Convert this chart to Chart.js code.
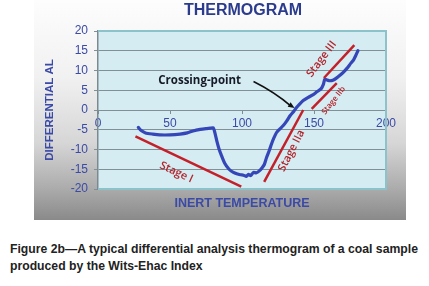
<!DOCTYPE html>
<html>
<head>
<meta charset="utf-8">
<script src="https://cdn.jsdelivr.net/npm/chart.js@4"></script>
<style>
  html, body { margin: 0; padding: 0; background: #fff; }
  body { width: 429px; height: 286px; position: relative; overflow: hidden; }
  #chart { position: absolute; left: 0; top: 0; }
  .caption {
    position: absolute; left: 10px;
    font-family: "Liberation Sans Narrow", "Liberation Sans", sans-serif;
    font-weight: bold; font-size: 13px; color: #222; white-space: nowrap;
  }
</style>
</head>
<body>
<canvas id="chart" width="429" height="220"></canvas>
<div class="caption" id="cap1" style="top:241px">Figure 2b—A typical differential analysis thermogram of a coal sample</div>
<div class="caption" id="cap2" style="top:258px">produced by the Wits-Ehac Index</div>
<script>
// thermogram curve (inert temperature vs differential)
var temps = [28, 30, 33, 38, 43, 50, 57, 62, 66, 71, 75, 78, 80, 81, 82.5, 84, 85.5, 88, 91, 94, 97, 99,
  101, 103, 104.5, 106, 108, 110, 112, 114, 115.5, 117, 119, 120.5, 122, 124, 126, 128.5, 131, 133.5,
  136, 138, 140, 142.5, 146, 149.5, 152, 155, 156.5, 157.5, 159, 161, 163.5, 166, 168, 170.5, 173,
  175.5, 177.5, 179, 180.5];
var diffs = [-4.4, -5.2, -5.8, -6.1, -6.3, -6.3, -6.1, -5.8, -5.3, -4.9, -4.7, -4.6, -4.5, -5.5, -7.8,
  -9.8, -11.3, -13.5, -15.0, -15.8, -16.2, -16.4, -16.5, -16.8, -16.3, -16.6, -15.8, -15.9, -15.4,
  -14.6, -13.8, -12.1, -10.2, -8.6, -7.2, -5.7, -4.9, -4.0, -2.8, -1.4, -0.3, 0.7, 1.5, 2.4, 3.2, 3.9,
  4.6, 5.4, 6.5, 7.8, 7.6, 7.4, 7.6, 8.2, 8.8, 9.6, 10.6, 11.8, 12.7, 13.8, 15.0];

// stage trend lines (start / end)
var stageIx = [26, 99.5],    stageIy = [-6.7, -19.4];
var stageIIax = [115.4, 142.5], stageIIay = [-18.2, 0];
var stageIIbx = [148.4, 165.8], stageIIby = [0.3, 6.8];
var stageIIIx = [156.9, 178], stageIIIy = [8.1, 16.4];

var xTicks = [0, 50, 100, 150, 200];
var yTicks = [-20, -15, -10, -5, 0, 5, 10, 15, 20];

function pts(xs, ys) {
  var out = [];
  for (var i = 0; i < xs.length; i++) out.push({x: xs[i], y: ys[i]});
  return out;
}

var blue = '#3446b8';
var red = '#c4202a';
var axisBlue = '#3b4aa6';

// panel background, plot fill and frame
var backPlugin = {
  id: 'back',
  beforeDraw: function(chart) {
    var ctx = chart.ctx, a = chart.chartArea;
    ctx.save();
    var g = ctx.createLinearGradient(0, 0, 0, 220);
    g.addColorStop(0, '#fdfdfd');
    g.addColorStop(0.35, '#f1f1f1');
    g.addColorStop(0.65, '#d6d6d6');
    g.addColorStop(0.85, '#adadad');
    g.addColorStop(1, '#8a8a8a');
    ctx.fillStyle = g;
    ctx.fillRect(34, 0, 372, 220);
    ctx.fillStyle = '#d5ecf2';
    ctx.fillRect(a.left, a.top, a.right - a.left, a.bottom - a.top);
    ctx.restore();
  },
  beforeDatasetsDraw: function(chart) {
    var ctx = chart.ctx, a = chart.chartArea;
    ctx.save();
    ctx.strokeStyle = '#8cc3ca';
    ctx.lineWidth = 2;
    ctx.beginPath();
    ctx.moveTo(a.left, a.top);
    ctx.lineTo(a.right, a.top);
    ctx.lineTo(a.right, a.bottom);
    ctx.lineTo(a.left, a.bottom);
    ctx.stroke();
    ctx.restore();
  }
};

// title, x title, stage labels and crossing-point arrow
var notesPlugin = {
  id: 'notes',
  afterDatasetsDraw: function(chart) {
    var ctx = chart.ctx, a = chart.chartArea;
    var xs = chart.scales.x, ys = chart.scales.y;
    ctx.save();
    ctx.textAlign = 'center';
    ctx.textBaseline = 'middle';

    ctx.fillStyle = '#2b3c8e';
    ctx.font = 'bold 16px "Liberation Sans", Arial, sans-serif';
    ctx.fillText('THERMOGRAM', 243, 11);

    ctx.fillStyle = axisBlue;
    ctx.font = 'bold 12.5px "Liberation Sans", Arial, sans-serif';
    ctx.fillText('INERT TEMPERATURE', 242, 204);

    function label(text, x, y, deg, size) {
      ctx.save();
      ctx.translate(xs.getPixelForValue(x), ys.getPixelForValue(y));
      ctx.rotate(deg * Math.PI / 180);
      ctx.fillStyle = '#b3232a';
      ctx.font = '600 ' + size + 'px "Open Sans", sans-serif';
      ctx.fillText(text, 0, 0);
      ctx.restore();
    }
    label('Stage I', 54.4, -15.8, 25, 11);
    label('Stage IIa', 134.4, -10.3, -63, 11);
    label('Stage IIb', 163.6, 2.4, -52, 8);
    label('Stage III', 155.3, 12.9, -53, 11);

    ctx.fillStyle = '#161a28';
    ctx.font = 'bold 11.5px "Open Sans", sans-serif';
    ctx.fillText('Crossing-point', xs.getPixelForValue(70.6), ys.getPixelForValue(7.4));

    var x0 = xs.getPixelForValue(108), y0 = ys.getPixelForValue(7.2);
    var x1 = xs.getPixelForValue(136.5), y1 = ys.getPixelForValue(0.5);
    ctx.strokeStyle = '#111';
    ctx.lineWidth = 1.6;
    ctx.beginPath();
    ctx.moveTo(x0, y0);
    ctx.quadraticCurveTo((x0 + x1) / 2, (y0 + y1) / 2 - 3, x1 - 3, y1 - 1.5);
    ctx.stroke();
    var ang = Math.atan2(y1 - y0, x1 - x0);
    ctx.fillStyle = '#111';
    ctx.beginPath();
    ctx.moveTo(x1, y1);
    ctx.lineTo(x1 - 7 * Math.cos(ang - 0.4), y1 - 7 * Math.sin(ang - 0.4));
    ctx.lineTo(x1 - 7 * Math.cos(ang + 0.4), y1 - 7 * Math.sin(ang + 0.4));
    ctx.closePath();
    ctx.fill();
    ctx.restore();
  }
};

function redLine(xs, ys) {
  return { data: pts(xs, ys), borderColor: red, borderWidth: 2.5, pointRadius: 0, tension: 0 };
}

new Chart(document.getElementById('chart'), {
  type: 'line',
  data: {
    datasets: [
      redLine(stageIx, stageIy),
      redLine(stageIIax, stageIIay),
      redLine(stageIIbx, stageIIby),
      redLine(stageIIIx, stageIIIy),
      { data: pts(temps, diffs), borderColor: blue, borderWidth: 3.2, pointRadius: 0, tension: 0.2,
        borderCapStyle: 'round', borderJoinStyle: 'round' }
    ]
  },
  options: {
    responsive: false,
    animation: false,
    devicePixelRatio: 1,
    layout: { padding: { left: 34, right: 43, top: 31, bottom: 31 } },
    plugins: { legend: { display: false }, title: { display: false }, tooltip: { enabled: false } },
    scales: {
      x: {
        type: 'linear',
        position: { y: 0 },
        min: 0, max: 200,
        afterBuildTicks: function(s) { s.ticks = xTicks.map(function(v) { return {value: v}; }); },
        grid: { drawOnChartArea: false, drawTicks: true, tickLength: 4, color: '#7d8d92' },
        border: { display: false },
        ticks: { color: axisBlue, padding: 2, maxRotation: 0,
                 font: { family: '"Liberation Sans", Arial, sans-serif', size: 12 } }
      },
      y: {
        type: 'linear',
        min: -20, max: 20,
        afterBuildTicks: function(s) { s.ticks = yTicks.map(function(v) { return {value: v}; }); },
        afterFit: function(s) { s.width = 64; },
        grid: {
          color: function(c) { return (c.tick && Math.abs(c.tick.value) === 20) ? 'rgba(0,0,0,0)' : '#7f9196'; },
          tickColor: '#7f9196', tickLength: 4, lineWidth: 1
        },
        border: { color: '#7a8a90', width: 1.5 },
        ticks: { color: axisBlue, padding: 6,
                 font: { family: '"Liberation Sans", Arial, sans-serif', size: 12 } },
        title: { display: true, text: 'DIFFERENTIAL AL', color: axisBlue, padding: { top: 9 },
                 font: { family: '"Liberation Sans", Arial, sans-serif', size: 11.5, weight: 'bold' } }
      }
    }
  },
  plugins: [backPlugin, notesPlugin]
});

// fit caption lines to the measured width of the original
(function() {
  var c1 = document.getElementById('cap1');
  var w = c1.getBoundingClientRect().width;
  var k = 408 / w;
  ['cap1', 'cap2'].forEach(function(id) {
    var el = document.getElementById(id);
    el.style.transformOrigin = '0 0';
    el.style.transform = 'scaleX(' + k.toFixed(3) + ')';
  });
})();
</script>
</body>
</html>
